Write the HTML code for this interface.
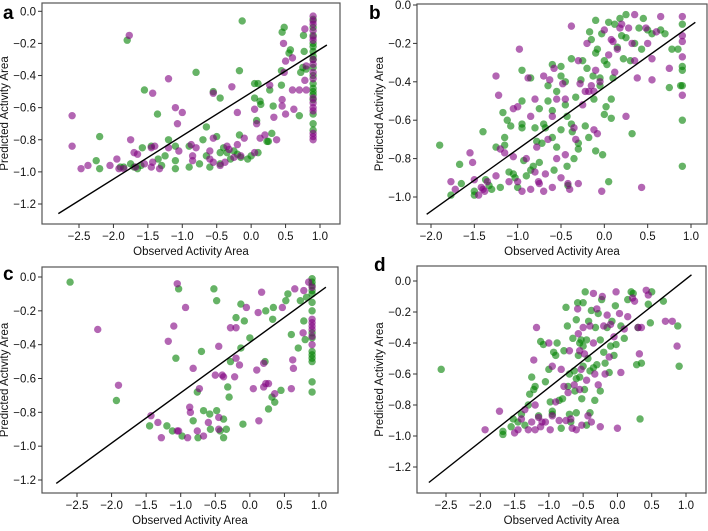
<!DOCTYPE html>
<html><head><meta charset="utf-8">
<style>
body{margin:0;background:#fff;}
svg text{font-family:"Liberation Sans",sans-serif;}
</style></head>
<body>
<svg id="fig" width="708" height="526" viewBox="0 0 708 526" xmlns="http://www.w3.org/2000/svg"></svg>
<script>
// Panel a
const aGreenX=[-1.8,-0.13,0.45,0.48,0.55,0.57,0.76,0.77,-0.8,-0.17,-1.55,-0.55,-0.45,-1.36,0.05,0.1,0.05,0.13,0.14,0.32,0.44,0.44,0.27,0.7,0.72,0.75,0.8,-0.65,-0.17,0.08,0.3,0.23,0.25,-2.2,-1.2,-1.1,-1.45,-0.9,-0.5,-0.7,-0.25,-0.2,-0.15,-0.05,0,0.1,-2.25,-2.2,-1.9,-1.85,-1.65,-1.6,-1.35,-1.25,-1.3,-1.1,-1.1,-0.9,-0.75,-0.65,-0.6,-0.45,-0.45,-0.35,-0.3,-1.7,-1.75,-1.58,-0.4,0.9,0.9,0.9,0.9,0.9,0.9,0.9,0.9,0.9,0.9,0.9,0.9,0.9,0.9,0.9,0.9,0.9,0.9];
const aGreenY=[-0.18,-0.06,-0.13,-0.10,-0.26,-0.24,-0.15,-0.25,-0.38,-0.37,-0.49,-0.50,-0.54,-0.64,-0.45,-0.45,-0.54,-0.56,-0.58,-0.59,-0.46,-0.37,-0.49,-0.65,-0.38,-0.35,-0.36,-0.72,-0.77,-0.68,-0.76,-0.81,-0.81,-0.78,-0.8,-0.84,-0.84,-0.84,-0.78,-0.80,-0.87,-0.89,-0.91,-0.92,-0.90,-0.88,-0.93,-0.98,-0.97,-0.97,-0.98,-0.96,-0.92,-0.90,-0.96,-0.93,-0.98,-0.97,-0.95,-0.90,-0.97,-0.88,-0.95,-0.88,-0.92,-0.97,-0.95,-0.85,-0.85,-0.05,-0.1,-0.15,-0.2,-0.22,-0.25,-0.28,-0.3,-0.35,-0.4,-0.45,-0.48,-0.5,-0.52,-0.55,-0.64,-0.7,-0.74];
const aPurpleX=[-1.77,0.78,0.47,0.5,0.6,0.48,-1.2,-1.43,-0.55,-0.28,0.27,0.6,0.7,0.78,0.8,0.8,-1.1,-1.0,-1.07,0.05,0.45,0.45,0.5,0.62,0.33,-0.2,0.08,-2.6,-2.6,-1.75,-0.55,-0.1,0.13,0.2,0.37,-1.2,-1.05,-1.45,-1.4,-0.87,-0.8,-0.6,-0.35,-0.32,-0.2,-0.15,0.05,-2.47,-2.37,-2.05,-1.95,-1.92,-1.85,-1.7,-1.65,-1.68,-1.55,-1.45,-1.43,-1.33,-0.85,-0.85,-0.6,-0.55,-0.45,-0.38,-0.25,0.9,0.9,0.9,0.9,0.9,0.9,0.9,0.9,0.9,0.9,0.9,0.9,0.9,0.9,0.9,0.9,0.9];
const aPurpleY=[-0.15,-0.11,-0.20,-0.31,-0.29,-0.38,-0.42,-0.51,-0.51,-0.47,-0.46,-0.49,-0.49,-0.43,-0.49,-0.34,-0.6,-0.63,-0.70,-0.61,-0.55,-0.59,-0.64,-0.61,-0.66,-0.63,-0.70,-0.65,-0.84,-0.80,-0.79,-0.79,-0.79,-0.77,-0.80,-0.85,-0.87,-0.85,-0.84,-0.83,-0.85,-0.87,-0.84,-0.86,-0.83,-0.90,-0.88,-0.98,-0.96,-0.96,-0.92,-0.98,-0.98,-0.88,-0.89,-0.97,-0.95,-0.97,-0.94,-0.98,-0.90,-0.93,-0.92,-0.94,-0.96,-0.94,-0.91,-0.03,-0.06,-0.08,-0.12,-0.16,-0.18,-0.3,-0.33,-0.38,-0.42,-0.54,-0.57,-0.6,-0.62,-0.76,-0.78,-0.8];
const aLine=[[-2.8,-1.26],[1.1,-0.21]];
// Panel b
const bGreenX=[-1.9,-1.77,-1.67,-1.65,-1.5,-1.5,-1.4,-1.37,-1.33,-1.3,-1.25,-1.2,-1.17,-1.15,-1.15,-1.12,-1.1,-1.08,-1.05,-1.03,-1.0,-0.95,-0.95,-0.95,-0.95,-0.93,-0.9,-0.85,-0.85,-0.82,-0.8,-0.78,-0.75,-0.75,-0.72,-0.7,-0.68,-0.65,-0.65,-0.6,-0.6,-0.6,-0.58,-0.55,-0.55,-0.5,-0.5,-0.5,-0.45,-0.45,-0.43,-0.43,-0.42,-0.38,-0.38,-0.37,-0.35,-0.33,-0.3,-0.3,-0.27,-0.25,-0.22,-0.2,-0.18,-0.17,-0.15,-0.13,-0.12,-0.1,-0.1,-0.1,-0.08,-0.05,-0.05,-0.03,-0.02,0.0,0.0,0.02,0.03,0.05,0.05,0.08,0.08,0.1,0.12,0.15,0.18,0.2,0.22,0.25,0.25,0.3,0.32,0.35,0.4,0.43,0.45,0.5,0.55,0.65,0.7,0.75,0.78,0.85,0.88,0.9,0.9,0.9,0.9,0.9,0.9];
const bGreenY=[-0.73,-0.99,-0.83,-0.93,-0.97,-0.99,-0.66,-0.91,-0.94,-0.96,-0.74,-0.95,-0.56,-0.69,-0.73,-0.6,-0.87,-0.63,-0.88,-0.90,-0.95,-0.34,-0.50,-0.62,-0.64,-0.81,-0.89,-0.38,-0.86,-0.84,-0.64,-0.71,-0.54,-0.82,-0.72,-0.62,-0.64,-0.5,-0.42,-0.31,-0.55,-0.69,-0.86,-0.45,-0.74,-0.32,-0.37,-0.65,-0.4,-0.52,-0.58,-0.84,-0.94,-0.28,-0.62,-0.66,-0.8,-0.48,-0.72,-0.75,-0.39,-0.29,-0.63,-0.33,-0.69,-0.14,-0.18,-0.37,-0.49,-0.08,-0.25,-0.76,-0.23,-0.38,-0.42,-0.15,-0.78,-0.29,-0.57,-0.53,-0.31,-0.09,-0.92,-0.59,-0.49,-0.38,-0.1,-0.22,-0.07,-0.16,-0.28,-0.05,-0.17,-0.29,-0.67,-0.2,-0.12,-0.23,-0.07,-0.13,-0.15,-0.13,-0.15,-0.43,-0.23,-0.23,-0.42,-0.10,-0.32,-0.34,-0.42,-0.60,-0.84];
const bPurpleX=[-1.77,-1.72,-1.55,-1.52,-1.5,-1.45,-1.42,-1.4,-1.38,-1.35,-1.25,-1.25,-1.22,-1.2,-1.15,-1.1,-1.05,-1.05,-1.0,-1.0,-0.98,-0.95,-0.9,-0.88,-0.85,-0.85,-0.8,-0.8,-0.78,-0.76,-0.75,-0.7,-0.7,-0.68,-0.65,-0.63,-0.6,-0.6,-0.58,-0.55,-0.55,-0.5,-0.48,-0.45,-0.45,-0.42,-0.4,-0.38,-0.35,-0.33,-0.3,-0.3,-0.28,-0.25,-0.22,-0.2,-0.18,-0.15,-0.12,-0.12,-0.1,-0.08,-0.05,-0.03,0.0,0.05,0.08,0.1,0.12,0.15,0.18,0.2,0.25,0.28,0.32,0.35,0.35,0.38,0.43,0.48,0.5,0.55,0.55,0.6,0.65,0.75,0.9,0.9,0.9,0.9,0.9];
const bPurpleY=[-0.92,-0.96,-0.77,-0.82,-0.91,-0.99,-0.95,-0.96,-0.97,-0.92,-0.37,-0.89,-0.47,-0.75,-0.77,-0.92,-0.54,-0.79,-0.53,-0.92,-0.23,-0.97,-0.8,-0.38,-0.58,-0.96,-0.49,-0.87,-0.74,-0.92,-0.93,-0.37,-0.97,-0.88,-0.7,-0.39,-0.58,-0.95,-0.33,-0.49,-0.8,-0.9,-0.41,-0.49,-0.78,-0.93,-0.96,-0.11,-0.64,-0.7,-0.29,-0.93,-0.41,-0.52,-0.45,-0.2,-0.45,-0.42,-0.45,-0.65,-0.34,-0.67,-0.4,-0.97,-0.13,-0.26,-0.18,-0.19,-0.35,-0.23,-0.12,-0.1,-0.58,-0.12,-0.2,-0.05,-0.29,-0.38,-0.95,-0.12,-0.2,-0.28,-0.39,-0.14,-0.06,-0.33,-0.06,-0.16,-0.19,-0.27,-0.47];
const bLine=[[-2.05,-1.09],[1.05,-0.09]];
// Panel c
const cGreenX=[-2.6,-1.93,-1.45,-1.2,-1.12,-1.03,-1.07,-0.98,-0.82,-0.76,-0.75,-0.7,-0.67,-0.58,-0.57,-0.52,-0.48,-0.48,-0.43,-0.38,-0.38,-0.34,-0.32,-0.3,-0.28,-0.2,-0.13,-0.13,-0.08,-0.1,0.0,0.23,0.22,0.27,0.32,0.34,0.33,0.36,0.45,0.52,0.55,0.6,0.7,0.73,0.78,0.8,0.82,0.9,0.9,0.9,0.9,0.9,0.9,0.9,0.9,0.9,0.9,0.9,0.9,0.9,0.9,0.9];
const cGreenY=[-0.03,-0.73,-0.88,-0.88,-0.91,-0.07,-0.48,-0.94,-0.85,-0.68,-0.95,-0.44,-0.79,-0.81,-0.9,-0.07,-0.14,-0.79,-0.91,-0.95,-0.84,-0.9,-0.65,-0.71,-0.5,-0.24,-0.16,-0.42,-0.26,-0.87,-0.36,-0.2,-0.5,-0.78,-0.71,-0.18,-0.25,-0.74,-0.67,-0.14,-0.1,-0.34,-0.42,-0.14,-0.26,-0.37,-0.12,-0.01,-0.03,-0.05,-0.08,-0.1,-0.15,-0.2,-0.33,-0.36,-0.44,-0.46,-0.48,-0.5,-0.62,-0.68];
const cPurpleX=[-2.2,-1.9,-1.43,-1.33,-1.28,-1.18,-1.1,-1.05,-1.05,-1.03,-0.93,-0.9,-0.87,-0.86,-0.82,-0.76,-0.73,-0.67,-0.6,-0.5,-0.45,-0.45,-0.45,-0.4,-0.38,-0.28,-0.22,-0.2,-0.2,-0.15,-0.05,0.05,0.1,0.12,0.13,0.17,0.2,0.2,0.23,0.27,0.36,0.47,0.6,0.62,0.63,0.65,0.78,0.77,0.85,0.9,0.9,0.9,0.9,0.9,0.9,0.9];
const cPurpleY=[-0.31,-0.64,-0.82,-0.86,-0.95,-0.38,-0.29,-0.04,-0.91,-0.91,-0.18,-0.95,-0.77,-0.8,-0.54,-0.91,-0.66,-0.94,-0.86,-0.58,-0.41,-0.83,-0.9,-0.58,-0.59,-0.3,-0.59,-0.48,-0.3,-0.52,-0.18,-0.66,-0.55,-0.21,-0.85,-0.09,-0.65,-0.51,-0.63,-0.63,-0.69,-0.18,-0.66,-0.49,-0.54,-0.07,-0.08,-0.33,-0.03,-0.06,-0.25,-0.27,-0.29,-0.31,-0.35,-0.4];
const cLine=[[-2.8,-1.22],[1.1,-0.06]];
// Panel d
const dGreenX=[-2.57,-1.67,-1.67,-1.55,-1.52,-1.45,-1.4,-1.35,-1.3,-1.28,-1.25,-1.22,-1.2,-1.15,-1.12,-1.08,-1.05,-1.0,-0.98,-0.95,-0.95,-0.93,-0.9,-0.88,-0.85,-0.82,-0.78,-0.75,-0.73,-0.72,-0.7,-0.7,-0.68,-0.65,-0.63,-0.62,-0.6,-0.6,-0.58,-0.57,-0.55,-0.55,-0.53,-0.52,-0.5,-0.5,-0.5,-0.48,-0.47,-0.45,-0.45,-0.43,-0.42,-0.4,-0.4,-0.38,-0.35,-0.33,-0.32,-0.3,-0.28,-0.25,-0.25,-0.23,-0.2,-0.18,-0.15,-0.12,-0.1,-0.08,-0.05,-0.03,-0.02,0.05,0.1,0.15,0.2,0.23,0.28,0.3,0.33,0.35,0.45,0.48,0.5,0.67,0.88,0.9,-0.8,-0.6];
const dGreenY=[-0.57,-0.97,-0.99,-0.94,-0.89,-0.91,-0.86,-0.93,-0.8,-0.73,-0.62,-0.7,-0.68,-0.87,-0.39,-0.41,-0.65,-0.57,-0.78,-0.84,-0.86,-0.46,-0.48,-0.4,-0.77,-0.95,-0.45,-0.17,-0.29,-0.68,-0.6,-0.86,-0.91,-0.37,-0.58,-0.71,-0.25,-0.85,-0.14,-0.48,-0.4,-0.62,-0.38,-0.76,-0.14,-0.42,-0.55,-0.7,-0.07,-0.38,-0.93,-0.5,-0.26,-0.58,-0.85,-0.19,-0.56,-0.77,-0.3,-0.54,-0.21,-0.71,-0.38,-0.12,-0.46,-0.53,-0.3,-0.59,-0.42,-0.26,-0.48,-0.16,-0.41,-0.29,-0.37,-0.12,-0.07,-0.08,-0.54,-0.3,-0.89,-0.53,-0.15,-0.27,-0.07,-0.13,-0.29,-0.55,-0.76,-0.63];
const dPurpleX=[-1.93,-1.72,-1.5,-1.45,-1.4,-1.35,-1.3,-1.25,-1.2,-1.2,-1.15,-1.12,-1.1,-1.05,-1.0,-0.98,-0.95,-0.95,-0.9,-0.85,-0.82,-0.78,-0.75,-0.72,-0.7,-0.68,-0.66,-0.63,-0.6,-0.58,-0.57,-0.55,-0.55,-0.53,-0.52,-0.5,-0.48,-0.45,-0.43,-0.4,-0.38,-0.35,-0.35,-0.33,-0.3,-0.28,-0.25,-0.22,-0.2,-0.18,-0.15,-0.12,-0.1,-0.05,-0.02,0.0,0.03,0.05,0.1,0.15,0.22,0.25,0.3,0.32,0.35,0.42,0.45,0.7,0.8,0.87,-1.18,-1.22];
const dPurpleY=[-0.96,-0.84,-0.98,-0.96,-0.89,-0.83,-0.96,-0.91,-0.8,-0.96,-0.88,-0.94,-0.91,-0.91,-0.4,-0.96,-0.55,-0.87,-0.78,-0.9,-0.57,-0.68,-0.9,-0.72,-0.45,-0.89,-0.95,-0.67,-0.96,-0.18,-0.34,-0.45,-0.7,-0.57,-0.93,-0.3,-0.47,-0.64,-0.87,-0.29,-0.91,-0.08,-0.4,-0.6,-0.18,-0.67,-0.94,-0.1,-0.29,-0.6,-0.22,-0.49,-0.28,-0.36,-0.07,-0.95,-0.21,-0.59,-0.31,-0.23,-0.11,-0.13,-0.3,-0.47,-0.3,-0.06,-0.09,-0.26,-0.26,-0.42,-0.3,-0.51];
const dLine=[[-2.75,-1.3],[1.08,0.04]];
// Tick labels
const xTicksA=[-2.5,-2.0,-1.5,-1.0,-0.5,0.0,0.5,1.0];
const xTicksB=[-2.0,-1.5,-1.0,-0.5,0.0,0.5,1.0];
const yTicksA=[0.0,-0.2,-0.4,-0.6,-0.8,-1.0,-1.2];
const yTicksB=[0.0,-0.2,-0.4,-0.6,-0.8,-1.0];

const NS="http://www.w3.org/2000/svg";
const svg=document.getElementById('fig');
function mk(tag,attrs,parent){const e=document.createElementNS(NS,tag);for(const k in attrs)e.setAttribute(k,attrs[k]);(parent||svg).appendChild(e);return e;}
function fmt(v){const s=v.toFixed(1);return v<0?'\u2212'+s.slice(1):s;}

const panels=[
 {id:'a',L:42,T:3,R:340,B:224,x1:-2.5,px1:79,x2:1.0,px2:320,y1:0,py1:11.3,y2:-1.2,py2:204,xt:xTicksA,yt:yTicksA,gX:aGreenX,gY:aGreenY,pX:aPurpleX,pY:aPurpleY,line:aLine,lx:3,ly:19,ylx:8},
 {id:'b',L:417,T:4,R:707,B:224,x1:-2.0,px1:431,x2:1.0,px2:691,y1:0,py1:5,y2:-1.0,py2:197,xt:xTicksB,yt:yTicksB,gX:bGreenX,gY:bGreenY,pX:bPurpleX,pY:bPurpleY,line:bLine,lx:369,ly:19,ylx:383},
 {id:'c',L:42,T:267,R:338,B:493,x1:-2.5,px1:77,x2:1.0,px2:319,y1:0,py1:277,y2:-1.2,py2:480,xt:xTicksA,yt:yTicksA,gX:cGreenX,gY:cGreenY,pX:cPurpleX,pY:cPurpleY,line:cLine,lx:3,ly:280,ylx:8},
 {id:'d',L:417,T:266,R:706,B:493,x1:-2.5,px1:446,x2:1.0,px2:686,y1:0,py1:281,y2:-1.2,py2:467,xt:xTicksA,yt:yTicksA,gX:dGreenX,gY:dGreenY,pX:dPurpleX,pY:dPurpleY,line:dLine,lx:374,ly:271,ylx:383}
];

panels.forEach(p=>{
 const g=mk('g',{});
 
 
 const sx=v=>p.px1+(v-p.x1)*(p.px2-p.px1)/(p.x2-p.x1);
 const sy=v=>p.py1+(v-p.y1)*(p.py2-p.py1)/(p.y2-p.y1);
 const frame=mk('rect',{x:p.L,y:p.T,width:p.R-p.L,height:p.B-p.T,fill:'none',stroke:'#555','stroke-width':1.2},g);
 
 
 p.xt.forEach(v=>{
  const x=sx(v);
  mk('line',{x1:x,y1:p.B,x2:x,y2:p.B+4,stroke:'#333'},g);
  const t=mk('text',{x:x,y:p.B+16,'font-size':11.5,'text-anchor':'middle',fill:'#111'},g);
  t.textContent=fmt(v);
  
  
 });
 p.yt.forEach(v=>{
  const y=sy(v);
  mk('line',{x1:p.L-4,y1:y,x2:p.L,y2:y,stroke:'#333'},g);
  const t=mk('text',{x:p.L-6,y:y+4,'font-size':11.5,'text-anchor':'end',fill:'#111'},g);
  t.textContent=fmt(v);
  
  
 });
 const drawPts=(xs,ys,color,name)=>{
  xs.forEach((v,i)=>{
   const c=mk('circle',{cx:sx(v),cy:sy(ys[i]),r:3.7,fill:color,'fill-opacity':0.6},g);
   
   
  });
 };
 drawPts(p.gX,p.gY,'#008000','point-green');
 drawPts(p.pX,p.pY,'#800080','point-purple');
 const ln=mk('line',{x1:sx(p.line[0][0]),y1:sy(p.line[0][1]),x2:sx(p.line[1][0]),y2:sy(p.line[1][1]),stroke:'#000','stroke-width':1.4},g);
 
 
 const xl=mk('text',{x:(p.L+p.R)/2,y:p.B+31,'font-size':11.5,'text-anchor':'middle',fill:'#111'},g);
 xl.textContent='Observed Activity Area';
 
 
 const yc=(p.T+p.B)/2;
 const yl=mk('text',{x:p.ylx,y:yc,'font-size':11.5,'text-anchor':'middle',fill:'#111',transform:'rotate(-90 '+p.ylx+' '+yc+')'},g);
 yl.textContent='Predicted Activity Area';
 
 
 const lt=mk('text',{x:p.lx,y:p.ly,'font-size':19,'font-weight':'bold',fill:'#000'},g);
 lt.textContent=p.id;
 
 
});
</script>
</body></html>
